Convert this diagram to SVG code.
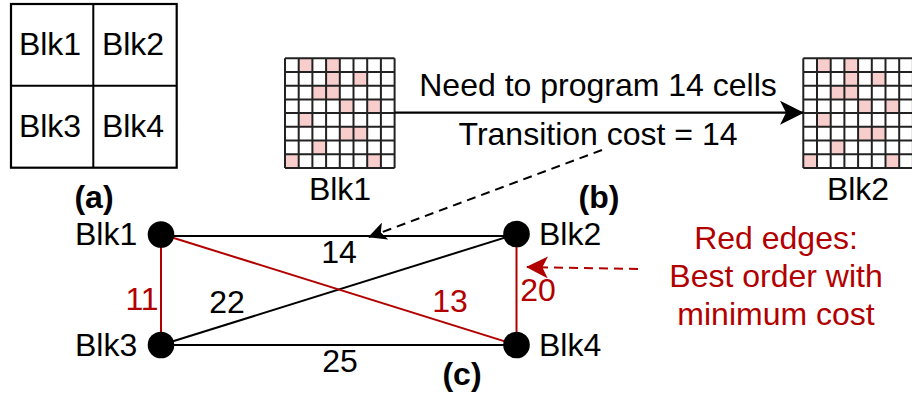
<svg xmlns="http://www.w3.org/2000/svg" xmlns:xlink="http://www.w3.org/1999/xlink" width="912" height="394" viewBox="0 0 912 394">
<style>
text{font-family:"Liberation Sans",Arial,sans-serif;font-size:32px;fill:#000}
.m{text-anchor:middle}
.b{font-weight:bold}
.r{fill:#B20000}
.blk{stroke:#000;stroke-width:2;fill:none}
.red{stroke:#B20000;stroke-width:2;fill:none}
.node{fill:#000}
.pink{fill:#F8CECC}
.gl{stroke:#222;stroke-width:2;fill:none}
</style>
<defs>
<g id="grid">
<rect x="0" y="0" width="109.6" height="109.6" fill="#fff"/>
<rect class="pink" x="13.7" y="0" width="13.7" height="13.7"/>
<rect class="pink" x="41.1" y="0" width="13.7" height="13.7"/>
<rect class="pink" x="41.1" y="13.7" width="13.7" height="13.7"/>
<rect class="pink" x="68.5" y="13.7" width="13.7" height="13.7"/>
<rect class="pink" x="27.4" y="27.4" width="27.4" height="13.7"/>
<rect class="pink" x="54.8" y="41.1" width="13.7" height="13.7"/>
<rect class="pink" x="82.2" y="41.1" width="13.7" height="13.7"/>
<rect class="pink" x="13.7" y="54.8" width="13.7" height="13.7"/>
<rect class="pink" x="54.8" y="68.5" width="27.4" height="13.7"/>
<rect class="pink" x="27.4" y="82.2" width="13.7" height="13.7"/>
<rect class="pink" x="0" y="95.9" width="13.7" height="13.7"/>
<rect class="pink" x="82.2" y="95.9" width="13.7" height="13.7"/>
<path class="gl" d="M0 0V109.6M13.7 0V109.6M27.4 0V109.6M41.1 0V109.6M54.8 0V109.6M68.5 0V109.6M82.2 0V109.6M95.9 0V109.6M109.6 0V109.6M0 0H109.6M0 13.7H109.6M0 27.4H109.6M0 41.1H109.6M0 54.8H109.6M0 68.5H109.6M0 82.2H109.6M0 95.9H109.6M0 109.6H109.6"/>
</g>
<marker id="ah" viewBox="0 0 20 20" refX="19" refY="10" markerWidth="18" markerHeight="18" markerUnits="userSpaceOnUse" orient="auto">
<path d="M0 0L20 10L0 20L5 10Z" fill="#000"/>
</marker>
<marker id="ahBig" viewBox="0 0 24 24" refX="23" refY="12" markerWidth="24" markerHeight="24" markerUnits="userSpaceOnUse" orient="auto">
<path d="M0 0L24 12L0 24L6 12Z" fill="#000"/>
</marker>
<marker id="ahRed" viewBox="0 0 20 20" refX="19" refY="10" markerWidth="22" markerHeight="22" markerUnits="userSpaceOnUse" orient="auto">
<path d="M0 0L20 10L0 20L5 10Z" fill="#B20000"/>
</marker>
</defs>
<rect width="912" height="394" fill="#fff"/>

<!-- (a) block layout -->
<g id="layout">
<rect x="11" y="4" width="165.7" height="163.7" fill="#fff" stroke="#000" stroke-width="2.2"/>
<path d="M93.3 4V167.7M11 85.7H176.7" stroke="#000" stroke-width="2"/>
<text class="m" x="50" y="55">Blk1</text>
<text class="m" x="133" y="55">Blk2</text>
<text class="m" x="50" y="137">Blk3</text>
<text class="m" x="133" y="137">Blk4</text>
<text class="m b" x="94" y="208">(a)</text>
</g>

<!-- (b) transition -->
<g id="grid1">
<use xlink:href="#grid" href="#grid" x="285" y="58.3"/>
<text class="m" x="340" y="200">Blk1</text>
</g>
<g id="grid2">
<use xlink:href="#grid" href="#grid" x="803.3" y="58.3"/>
<text class="m" x="858" y="200">Blk2</text>
</g>
<g id="transition">
<line x1="394.6" y1="112.7" x2="803" y2="112.7" stroke="#000" stroke-width="2.2" marker-end="url(#ahBig)"/>
<text class="m" x="598" y="96">Need to program 14 cells</text>
<text class="m" x="598" y="145">Transition cost = 14</text>
<text class="m b" x="599" y="208">(b)</text>
</g>

<!-- (c) graph connectors -->
<g id="connectors">
<line class="blk" x1="161" y1="236" x2="516.5" y2="236"/>
<line class="blk" x1="161" y1="345" x2="516.5" y2="345"/>
<line class="blk" x1="161" y1="345" x2="516.5" y2="234"/>
<line class="red" x1="161" y1="234" x2="516.5" y2="345"/>
<line class="red" x1="161" y1="234" x2="161" y2="345"/>
<line class="red" x1="516.5" y1="234" x2="516.5" y2="345"/>
<line x1="602" y1="150" x2="369" y2="237" stroke="#000" stroke-width="2" stroke-dasharray="9,6" marker-end="url(#ah)"/>
<line x1="638" y1="269" x2="527" y2="267" stroke="#B20000" stroke-width="2" stroke-dasharray="9,6" marker-end="url(#ahRed)"/>
<text class="m" x="339" y="263">14</text>
<text class="m r" x="142" y="310">11</text>
<text class="m" x="227" y="313">22</text>
<text class="m r" x="450" y="312">13</text>
<text class="m" x="340" y="372">25</text>
<text class="m r" x="538" y="301">20</text>
</g>
<g id="n1"><circle class="node" cx="161" cy="234.5" r="13.3"/><text x="75" y="245">Blk1</text></g>
<g id="n2"><circle class="node" cx="516.5" cy="234" r="13.3"/><text x="539" y="245">Blk2</text></g>
<g id="n3"><circle class="node" cx="161" cy="345" r="13.3"/><text x="75" y="356">Blk3</text></g>
<g id="n4"><circle class="node" cx="516.5" cy="345" r="13.3"/><text x="539" y="356">Blk4</text></g>
<g id="caption">
<text class="m b" x="462" y="385">(c)</text>
<text class="m r" x="776" y="249">Red edges:</text>
<text class="m r" x="776" y="287">Best order with</text>
<text class="m r" x="776" y="325">minimum cost</text>
</g>
</svg>
